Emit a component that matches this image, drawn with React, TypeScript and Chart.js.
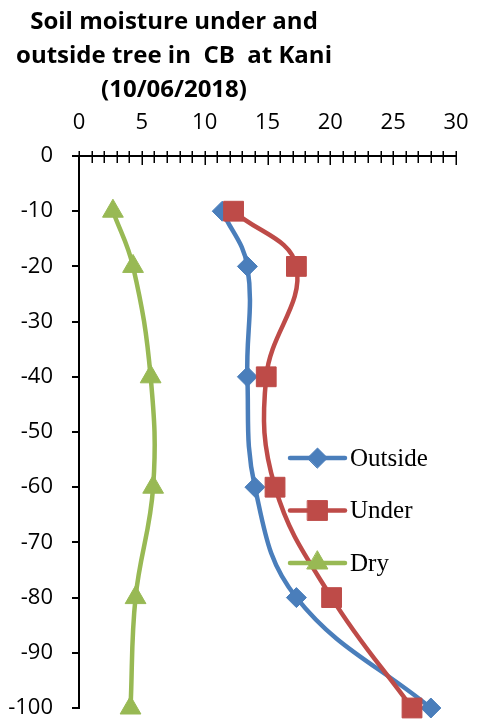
import React, { useEffect, useRef } from "react";
import { Chart, registerables } from "chart.js";
import { drawPoint } from "chart.js/helpers";

Chart.register(...registerables);

const depths = [-10, -20, -40, -60, -80, -100];
const outsideValues = [11.4, 13.4, 13.4, 14.0, 17.3, 28.0];
const underValues = [12.3, 17.3, 14.9, 15.6, 20.1, 26.5];
const dryValues = [2.7, 4.3, 5.7, 5.9, 4.5, 4.1];
const seriesNames = ["Outside", "Under", "Dry"];
const titleLines = ["Soil moisture under and", "outside tree in  CB  at Kani", "(10/06/2018)"];
const xTickMin = 0;
const xTickMax = 30;
const yTickMin = -100;
const yTickMax = 0;

const BLUE = "#4A7EBB";
const RED = "#BE4B48";
const GREEN = "#98B954";

const crossTicksPlugin = {
  id: "crossTicks",
  afterDraw(chart: any) {
    const xs = chart.scales.x;
    const top = chart.chartArea.top;
    const ctx = chart.ctx;
    ctx.save();
    ctx.strokeStyle = "#000";
    ctx.lineWidth = 1.5;
    xs.ticks.forEach((t: any) => {
      const px = Math.round(xs.getPixelForValue(t.value)) + 0.25;
      const major = t.value % 5 === 0;
      ctx.beginPath();
      ctx.moveTo(px, top - 5);
      ctx.lineTo(px, top + (major ? 9 : 7));
      ctx.stroke();
    });
    ctx.restore();
  },
};

const lineLegendPlugin = {
  id: "lineLegend",
  afterDraw(chart: any, _args: any, opts: any) {
    const ctx = chart.ctx;
    ctx.save();
    chart.data.datasets.forEach((ds: any, i: number) => {
      const y = opts.top + i * opts.rowGap;
      const x0 = opts.left;
      const x1 = opts.left + opts.lineLength;
      ctx.strokeStyle = ds.borderColor;
      ctx.lineWidth = ds.borderWidth;
      ctx.lineCap = "round";
      ctx.beginPath();
      ctx.moveTo(x0, y);
      ctx.lineTo(x1, y);
      ctx.stroke();
      ctx.fillStyle = ds.backgroundColor;
      ctx.strokeStyle = ds.borderColor;
      ctx.lineWidth = 1;
      drawPoint(ctx, { pointStyle: ds.pointStyle, radius: ds.pointRadius, rotation: 0, borderWidth: 1 }, (x0 + x1) / 2, y);
      ctx.fillStyle = "#000";
      ctx.font = opts.font;
      ctx.textBaseline = "middle";
      ctx.textAlign = "left";
      ctx.fillText(ds.label, x1 + opts.textGap, y + 1);
    });
    ctx.restore();
  },
};

export default function App() {
  const canvasRef = useRef<HTMLCanvasElement | null>(null);

  useEffect(() => {
    document.body.style.margin = "0";
    const canvas = canvasRef.current;
    if (!canvas) return;
    const mk = (vals: number[]) => depths.map((d, i) => ({ x: vals[i], y: d }));
    const chart = new Chart(canvas, {
      type: "scatter",
      data: {
        datasets: [
          {
            label: seriesNames[0],
            data: mk(outsideValues),
            borderColor: BLUE,
            backgroundColor: BLUE,
            borderWidth: 4.5,
            pointStyle: "rectRot",
            pointRadius: 10,
            pointBorderWidth: 1,
            showLine: true,
            tension: 0.4,
            clip: false,
            order: 3,
          },
          {
            label: seriesNames[1],
            data: mk(underValues),
            borderColor: RED,
            backgroundColor: RED,
            borderWidth: 4.5,
            pointStyle: "rect",
            pointRadius: 14,
            pointBorderWidth: 1,
            showLine: true,
            tension: 0.4,
            clip: false,
            order: 2,
          },
          {
            label: seriesNames[2],
            data: mk(dryValues),
            borderColor: GREEN,
            backgroundColor: GREEN,
            borderWidth: 4.5,
            pointStyle: "triangle",
            pointRadius: 12,
            pointBorderWidth: 1,
            showLine: true,
            tension: 0.4,
            clip: false,
            order: 1,
          },
        ] as any,
      },
      options: {
        animation: false,
        responsive: true,
        maintainAspectRatio: false,
        layout: { padding: { top: 0, left: 0, right: 25, bottom: 20 } },
        plugins: {
          legend: { display: false },
          title: { display: false },
          tooltip: { enabled: false },
          lineLegend: {
            left: 290,
            top: 458,
            rowGap: 52.5,
            lineLength: 55,
            textGap: 5,
            font: '25px "Liberation Serif", "Times New Roman", serif',
          },
        } as any,
        scales: {
          x: {
            type: "linear",
            position: "top",
            min: xTickMin,
            max: xTickMax,
            afterFit(scale: any) {
              scale.height = 156;
              scale.paddingLeft = 0;
              scale.paddingRight = 0;
            },
            ticks: {
              stepSize: 1,
              autoSkip: false,
              maxRotation: 0,
              padding: 20,
              color: "#000",
              font: { family: "'Open Sans'", size: 22 },
              callback: (v: any) => (Number(v) % 5 === 0 ? String(v) : ""),
            },
            grid: { drawOnChartArea: false, drawTicks: false },
            border: { display: true, color: "#000", width: 2 },
          },
          y: {
            type: "linear",
            position: "left",
            min: yTickMin,
            max: yTickMax,
            afterFit(scale: any) {
              scale.width = 79;
              scale.paddingTop = 0;
              scale.paddingBottom = 0;
            },
            ticks: {
              stepSize: 10,
              padding: 19,
              color: "#000",
              font: { family: "'Open Sans'", size: 22 },
            },
            grid: { drawOnChartArea: false, drawTicks: true, tickLength: 7, color: "#000", lineWidth: 2 },
            border: { display: true, color: "#000", width: 2 },
          },
        },
      } as any,
      plugins: [crossTicksPlugin, lineLegendPlugin],
    });
    return () => chart.destroy();
  }, []);

  return (
    <div style={{ position: "relative", width: 481, height: 728, background: "#fff" }}>
      <canvas ref={canvasRef} />
      <div
        style={{
          position: "absolute",
          left: 0,
          top: 3,
          width: 348,
          textAlign: "center",
          fontFamily: '"Open Sans", sans-serif',
          fontWeight: 700,
          fontSize: 24,
          lineHeight: "34px",
          whiteSpace: "pre",
          color: "#000",
        }}
      >
        {titleLines.map((l, i) => (
          <div key={i}>{l}</div>
        ))}
      </div>
    </div>
  );
}
